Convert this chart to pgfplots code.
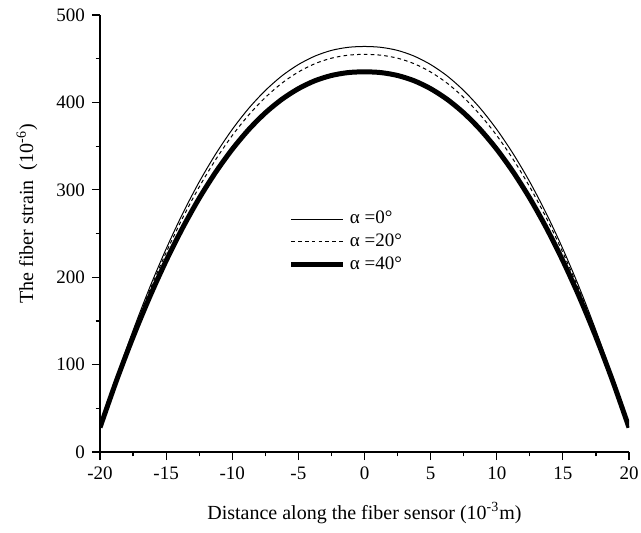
\documentclass[border=0pt]{standalone}
\usepackage{fontspec}
\setmainfont{Liberation Serif}
\usepackage{pgfplots}
\pgfplotsset{compat=1.18}
\begin{document}
\begin{tikzpicture}
\begin{axis}[
  width=264.5pt, height=218.5pt, scale only axis,
  xmin=-20, xmax=20, ymin=0, ymax=500,
  axis lines*=left,
  axis line style={line width=0.7pt},
  tick align=outside,
  major tick length=4pt, minor tick length=2.2pt,
  tick style={line width=0.6pt, black},
  xtick={-20,-15,...,20}, ytick={0,100,...,500},
  minor x tick num=1, minor y tick num=1,
  /pgf/number format/assume math mode=true,
  tick label style={font=\fontsize{9.5}{11}\selectfont},
  label style={font=\fontsize{11}{13}\selectfont},
  xlabel={Distance along the fiber sensor (10\textsuperscript{-3}m)},
  ylabel={The fiber strain\ \ (10\textsuperscript{-6})},
  every axis x label/.style={at={(axis description cs:0.5,-0.1396)}, anchor=center},
  every axis y label/.style={at={(axis description cs:-0.138,0.545)}, rotate=90, anchor=center},
  legend style={at={(axis cs:-6.2,285)}, anchor=north west, draw=none, fill=none,
    font=\fontsize{9.5}{11}\selectfont, row sep=-0.5pt},
  legend cell align=left,
  legend image code/.code={\draw[#1] (0pt,0pt) -- (26pt,0pt);},
]
\addplot[black, line width=0.5pt, smooth] coordinates {
(-20,28) (-18.75,85.7) (-17.5,139.0) (-16.25,187.9) (-15,232.4) (-13.75,272.8) (-12.5,309.0) (-11.25,341.0)
(-10,369.1) (-8.75,393.3) (-7.5,413.6) (-6.25,430.3) (-5,443.3) (-3.75,453.0) (-2.5,459.5) (-1.25,463.0) (0,464)
(1.25,463.0) (2.5,459.5) (3.75,453.0) (5,443.3) (6.25,430.3) (7.5,413.6) (8.75,393.3) (10,369.1)
(11.25,341.0) (12.5,309.0) (13.75,272.8) (15,232.4) (16.25,187.9) (17.5,139.0) (18.75,85.7) (20,28)};
\addlegendentry{α =0°}
\addplot[black, line width=0.5pt, smooth, dash pattern=on 1.8pt off 1.6pt] coordinates {
(-20,28) (-18.75,84.5) (-17.5,136.7) (-16.25,184.6) (-15,228.2) (-13.75,267.8) (-12.5,303.2) (-11.25,334.6)
(-10,362.1) (-8.75,385.7) (-7.5,405.6) (-6.25,422.0) (-5,434.8) (-3.75,444.3) (-2.5,450.6) (-1.25,454.0) (0,455)
(1.25,454.0) (2.5,450.6) (3.75,444.3) (5,434.8) (6.25,422.0) (7.5,405.6) (8.75,385.7) (10,362.1)
(11.25,334.6) (12.5,303.2) (13.75,267.8) (15,228.2) (16.25,184.6) (17.5,136.7) (18.75,84.5) (20,28)};
\addlegendentry{α =20°}
\addplot[black, line width=2.5pt, smooth] coordinates {
(-20,28) (-18.75,81.9) (-17.5,131.6) (-16.25,177.2) (-15,218.8) (-13.75,256.5) (-12.5,290.3) (-11.25,320.2)
(-10,346.4) (-8.75,369.0) (-7.5,388.0) (-6.25,403.5) (-5,415.7) (-3.75,424.8) (-2.5,430.8) (-1.25,434.1) (0,435)
(1.25,434.1) (2.5,430.8) (3.75,424.8) (5,415.7) (6.25,403.5) (7.5,388.0) (8.75,369.0) (10,346.4)
(11.25,320.2) (12.5,290.3) (13.75,256.5) (15,218.8) (16.25,177.2) (17.5,131.6) (18.75,81.9) (20,28)};
\addlegendentry{α =40°}
\end{axis}
\pgfresetboundingbox
\path[use as bounding box] (-50pt,-40pt) rectangle (270.5pt,226pt);
\end{tikzpicture}
\end{document}
